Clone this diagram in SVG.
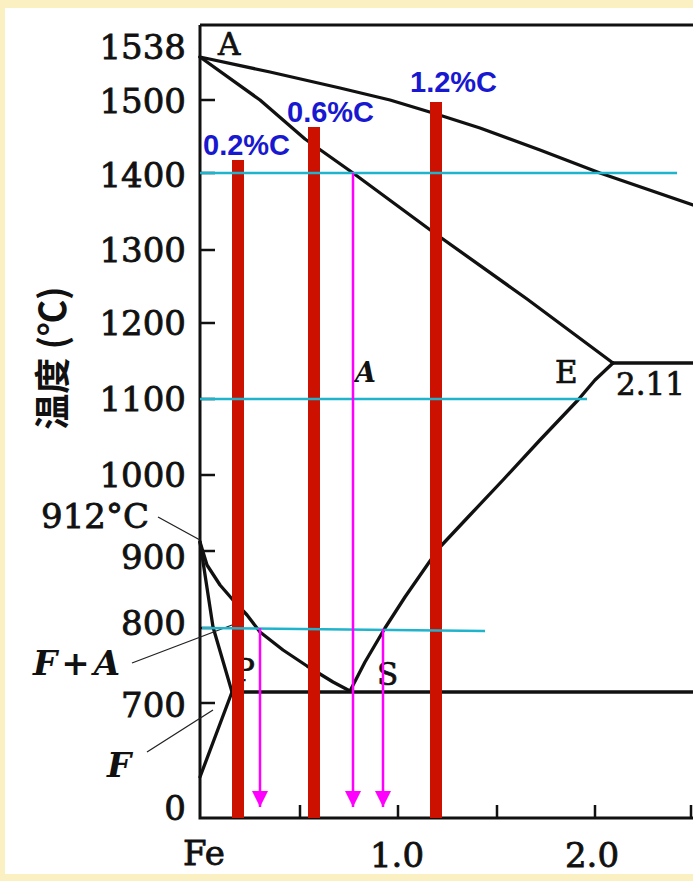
<svg xmlns="http://www.w3.org/2000/svg" width="693" height="881" viewBox="0 0 693 881">
<defs>
<style>
.curve{fill:none;stroke:#111;stroke-width:3.3;stroke-linejoin:round;stroke-linecap:round}
.axis{fill:none;stroke:#111;stroke-width:3}
.tick{stroke:#111;stroke-width:2.5}
.lead{stroke:#222;stroke-width:1.3;fill:none}
.num{font-family:"DejaVu Serif","Liberation Serif",serif;font-size:34px;fill:#111;stroke:#111;stroke-width:0.8}
.lbl{font-family:"DejaVu Serif","Liberation Serif",serif;font-size:31px;fill:#111;stroke:#111;stroke-width:0.7}
.it{font-family:"DejaVu Serif","Liberation Serif",serif;font-style:italic;font-weight:bold;fill:#111}
.bar{fill:#cc1100}
.cyan{stroke:#1fb3cc;stroke-width:2.5}
.mag{stroke:#ff00ff;stroke-width:2.5;fill:none}
.blue{font-family:"Liberation Sans",Arial,sans-serif;font-weight:bold;font-size:29px;fill:#1818d0}
</style>
<marker id="ahd" markerUnits="userSpaceOnUse" markerWidth="16" markerHeight="16" viewBox="0 0 16 16" refX="8" refY="16" orient="0">
<path d="M0,0 L16,0 L8,16 Z" fill="#ff00ff"/>
</marker>
</defs>
<rect x="0" y="0" width="693" height="881" fill="#fbf0c2"/>
<rect x="5" y="8" width="688" height="866" fill="#ffffff"/>

<g id="frame">
<path class="axis" d="M200,25 L693,25 M200,25 L200,818 L693,818"/>
<path class="tick" d="M200,100 H215 M200,173 H215 M200,250 H215 M200,323 H215 M200,399 H215 M200,475 H215 M200,551 H215 M200,628 H215 M200,703 H215"/>
<path class="tick" d="M300,818 V805 M398,818 V805 M497,818 V805 M595,818 V805 M691,818 V805"/>
</g>

<g id="y-labels" text-anchor="end">
<text class="num" x="186" y="59">1538</text>
<text class="num" x="186" y="113">1500</text>
<text class="num" x="186" y="187">1400</text>
<text class="num" x="186" y="262">1300</text>
<text class="num" x="186" y="335">1200</text>
<text class="num" x="186" y="411">1100</text>
<text class="num" x="186" y="487">1000</text>
<text class="num" x="186" y="569">900</text>
<text class="num" x="186" y="635">800</text>
<text class="num" x="186" y="717">700</text>
<text class="num" x="186" y="820">0</text>
</g>
<g id="y-title">
<text transform="translate(50,358) rotate(-90)" text-anchor="middle" dominant-baseline="central" font-family="Noto Sans CJK SC, sans-serif" font-size="36" font-weight="bold" fill="#111">温度 (℃)</text>
</g>
<g id="x-labels" text-anchor="middle">
<text class="num" x="204" y="865">Fe</text>
<text class="num" x="397" y="867">1.0</text>
<text class="num" x="592" y="867">2.0</text>
</g>

<g id="phase-lines">
<path id="liquidus" class="curve" d="M200,57 L270,72 L340,88 L390,100 L433,113 L480,128 L540,150 L600,173 L693,205"/>
<path id="solidus" class="curve" d="M200,57 L260,100 L305,139 L353,173 L433,232 L527,299 L613,363"/>
<path id="eutectic" class="curve" d="M613,363 L693,363"/>
<path id="ES" class="curve" d="M613,363 L595,380 L578,400 L540,440 L503,480 L470,515 L440,547 L430,561 L405,597 L385,628 L365,662 L350,691"/>
<path id="GS" class="curve" d="M200,542 L207,565 L220,585 L233,600 L247,615 L260,632 L283,650 L307,666 L333,682 L350,691"/>
<path id="GP" class="curve" d="M200,542 L213,627 L232,692"/>
<path id="PQ" class="curve" d="M232,692 L200,777"/>
<path id="eutectoid" class="curve" d="M232,692 L693,692"/>
</g>

<g id="point-labels">
<text class="lbl" x="218" y="55">A</text>
<text class="lbl" x="555" y="383">E</text>
<text class="lbl" x="616" y="395">2.11</text>
<text class="lbl" x="377" y="685">S</text>
<text class="lbl" x="234" y="681">P</text>
<text class="it" x="355" y="382" font-size="27">A</text>
</g>

<g id="annotations">
<text class="num" x="41" y="528">912°C</text>
<text class="it" x="33" y="675" font-size="34" letter-spacing="4">F+A</text>
<text class="it" x="107" y="777" font-size="34">F</text>
<path class="lead" d="M158,517 L200,540 M132,663 L232,625 M147,752 L213,710"/>
</g>

<g id="alloy-bars">
<rect class="bar" x="232" y="160" width="12" height="658"/>
<rect class="bar" x="308" y="127" width="12" height="691"/>
<rect class="bar" x="430" y="102" width="12" height="716"/>
</g>

<g id="isotherms">
<line class="cyan" x1="200" y1="173" x2="677" y2="173"/>
<line class="cyan" x1="200" y1="399" x2="587" y2="399"/>
<line class="cyan" x1="202" y1="628" x2="485" y2="631"/>
</g>

<g id="connectors">
<line class="mag" x1="260" y1="628" x2="260" y2="807" marker-end="url(#ahd)"/>
<line class="mag" x1="353" y1="173" x2="353" y2="807" marker-end="url(#ahd)"/>
<line class="mag" x1="383" y1="629" x2="383" y2="807" marker-end="url(#ahd)"/>
</g>

<g id="bar-labels">
<text class="blue" x="203" y="155">0.2%C</text>
<text class="blue" x="287" y="122">0.6%C</text>
<text class="blue" x="410" y="92">1.2%C</text>
</g>
</svg>
